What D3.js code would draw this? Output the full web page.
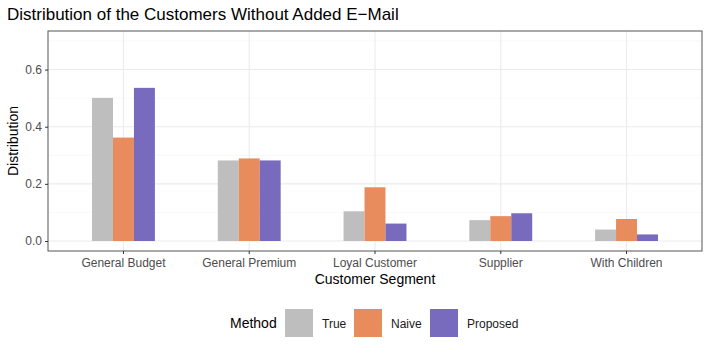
<!DOCTYPE html>
<html>
<head>
<meta charset="utf-8">
<script src="https://cdn.jsdelivr.net/npm/d3@7"></script>
<style>
  body { margin: 0; background: #fff; }
  text { font-family: "Liberation Sans", Arial, sans-serif; }
</style>
</head>
<body>
<div id="chart-area"></div>
<script>
let segments = ["General Budget", "General Premium", "Loyal Customer", "Supplier", "With Children"]
let methods = ["True", "Naive", "Proposed"]
let trueValues = [0.501, 0.282, 0.104, 0.073, 0.040]
let naiveValues = [0.362, 0.289, 0.188, 0.087, 0.077]
let proposedValues = [0.536, 0.282, 0.061, 0.097, 0.023]
let yTicks = [0.0, 0.2, 0.4, 0.6]
let yMinor = [0.1, 0.3, 0.5, 0.7]
let colors = ["#bebebe", "#e88b5d", "#786bbd"]

let margin = { top: 31, right: 6, bottom: 102, left: 48 }
let width = 708, height = 353
let canvasWidth = width - margin.left - margin.right
let canvasHeight = height - margin.top - margin.bottom

let data = []
segments.forEach((s, i) => {
  data.push({ segment: s, method: "True", value: trueValues[i] })
  data.push({ segment: s, method: "Naive", value: naiveValues[i] })
  data.push({ segment: s, method: "Proposed", value: proposedValues[i] })
})

let svg = d3.select("#chart-area").append("svg")
  .attr("width", width)
  .attr("height", height)

let g = svg.append("g")
  .attr("transform", "translate(" + margin.left + ", " + margin.top + ")")

let y = d3.scaleLinear()
  .domain([-0.035, 0.735])
  .range([canvasHeight, 0])

let x = d3.scaleBand()
  .domain(segments)
  .range([0, canvasWidth])
  .paddingInner(0)
  .paddingOuter(0.1)

let xm = d3.scaleBand()
  .domain(methods)
  .range([0, x.bandwidth() * 0.5])

let color = d3.scaleOrdinal().domain(methods).range(colors)

// grid
g.selectAll(".minor").data(yMinor).enter().append("line")
  .attr("x1", 0).attr("x2", canvasWidth)
  .attr("y1", d => y(d)).attr("y2", d => y(d))
  .attr("stroke", "#f4f4f4").attr("stroke-width", 0.6)
g.selectAll(".major").data(yTicks).enter().append("line")
  .attr("x1", 0).attr("x2", canvasWidth)
  .attr("y1", d => y(d)).attr("y2", d => y(d))
  .attr("stroke", "#ebebeb").attr("stroke-width", 1.1)
g.selectAll(".vmajor").data(segments).enter().append("line")
  .attr("x1", d => x(d) + x.bandwidth() / 2).attr("x2", d => x(d) + x.bandwidth() / 2)
  .attr("y1", 0).attr("y2", canvasHeight)
  .attr("stroke", "#ebebeb").attr("stroke-width", 1.1)

// bars
g.selectAll("rect.bar").data(data).enter().append("rect")
  .attr("class", "bar")
  .attr("x", d => x(d.segment) + x.bandwidth() * 0.25 + xm(d.method))
  .attr("width", xm.bandwidth())
  .attr("y", d => y(d.value))
  .attr("height", d => y(0) - y(d.value))
  .attr("fill", d => color(d.method))

// border
g.append("rect")
  .attr("x", 0).attr("y", 0)
  .attr("width", canvasWidth).attr("height", canvasHeight)
  .attr("fill", "none").attr("stroke", "#555").attr("stroke-width", 1)

// axes
let yAxis = g.append("g")
  .call(d3.axisLeft(y).tickValues(yTicks).tickFormat(d3.format(".1f")).tickSize(3).tickPadding(3))
let xAxis = g.append("g")
  .attr("transform", "translate(0," + canvasHeight + ")")
  .call(d3.axisBottom(x).tickSize(3).tickPadding(4))
;[yAxis, xAxis].forEach(a => {
  a.select(".domain").remove()
  a.selectAll(".tick line").attr("stroke", "#333")
  a.selectAll(".tick text").attr("fill", "#4d4d4d").style("font-size", "12px")
    .style("font-family", "'Liberation Sans', Arial, sans-serif")
})

// titles
svg.append("text")
  .attr("x", 7).attr("y", 20)
  .style("font-size", "17px")
  .text("Distribution of the Customers Without Added E\u2212Mail")

svg.append("text")
  .attr("x", margin.left + canvasWidth / 2).attr("y", 284)
  .attr("text-anchor", "middle")
  .style("font-size", "14px")
  .text("Customer Segment")

svg.append("text")
  .attr("transform", "translate(18," + (margin.top + canvasHeight / 2) + ") rotate(-90)")
  .attr("text-anchor", "middle")
  .style("font-size", "14px")
  .text("Distribution")

// legend
let legend = svg.append("g")
legend.append("text")
  .attr("x", 230).attr("y", 328)
  .style("font-size", "14px")
  .text("Method")
let keyX = [285, 354, 430]
methods.forEach((m, i) => {
  legend.append("rect")
    .attr("x", keyX[i]).attr("y", 309)
    .attr("width", 28).attr("height", 28)
    .attr("fill", color(m))
  legend.append("text")
    .attr("x", keyX[i] + 37).attr("y", 327.5)
    .style("font-size", "12px")
    .attr("fill", "#1a1a1a")
    .text(m)
})
</script>
</body>
</html>
